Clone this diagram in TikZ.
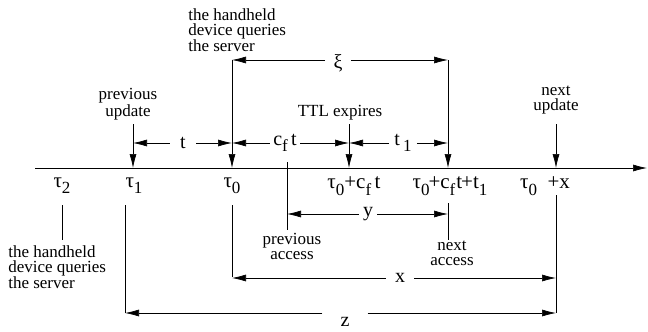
\documentclass[tikz,border=0pt]{standalone}
\usepackage{fontspec}
\setmainfont{Liberation Serif}
\usetikzlibrary{positioning,arrows.meta}
\newcommand{\lo}[1]{\raisebox{-0.3em}{\fontsize{17}{17}\selectfont #1}}

\begin{document}
\begin{tikzpicture}[x=1pt, y=-1pt, line width=0.6pt,
  tip/.style={-{Latex[length=14pt,width=7pt]}},
  note/.style={align=center, font=\fontsize{17}{15}\selectfont, inner sep=0pt},
  query/.style={align=left, font=\fontsize{17}{15}\selectfont, inner sep=0pt, anchor=north west},
  val/.style={font=\fontsize{20}{20}\selectfont, inner ysep=0pt, inner xsep=#1},
  val/.default=5pt,
  inst/.style={font=\fontsize{21}{21}\selectfont, inner sep=0pt},
  ]
  \useasboundingbox (0,0) rectangle (648,332);

  % time axis
  \coordinate (ax0) at (35,168);
  \coordinate (ax1) at (647,168);
  \draw[tip] (ax0) -- (ax1);

  % events on the axis
  \coordinate (pu) at (133,168);
  \coordinate (qs) at (232,168);
  \coordinate (pa) at (287,168);
  \coordinate (te) at (349,168);
  \coordinate (na) at (448,168);
  \coordinate (nu) at (556,168);

  % arrows from above
  \coordinate (pu top) at (133,124);
  \coordinate (te top) at (349,124);
  \coordinate (nu top) at (556,124);
  \coordinate (qs top) at (232,60);
  \coordinate (na top) at (448,60);
  \coordinate (pa top) at (287,162);
  \draw[tip] (pu top) -- (pu);
  \draw[tip] (te top) -- (te);
  \draw[tip] (nu top) -- (nu);
  \draw[tip] (qs top) -- (qs);
  \draw[tip] (na top) -- (na);

  \node[note, above=4pt of pu top, xshift=-5pt] (pul) {previous\\update};
  \node[note, above=4pt of te top, xshift=-9pt] (tel) {TTL expires};
  \node[note, above=10pt of nu top] (nul) {next\\update};
  \node[query] (qsl) at (188,8) {the handheld\\device queries\\the server};

  % spans above the axis
  \node[val=8pt] (xi) at (338,63) {ξ};
  \draw[tip] (xi.west |- qs top) -- (qs top);
  \draw[tip] (xi.east |- na top) -- (na top);
  \node[val=10pt] (tl) at (183,143) {t};
  \draw[tip] (tl) -- (pu |- tl);
  \draw[tip] (tl) -- (qs |- tl);
  \node[val=3pt] (cfl) at (285,143) {c\lo{f}\,t};
  \draw[tip] (cfl) -- (qs |- cfl);
  \draw[tip] (cfl) -- (te |- cfl);
  \node[val=5pt] (t1l) at (403,143) {t\,\lo{1}};
  \draw[tip] (t1l) -- (te |- t1l);
  \draw[tip] (t1l) -- (na |- t1l);

  % instants under the axis
  \node[inst] (tau2) at (62,186) {τ\lo{2}};
  \node[inst] (tau1) at (134,186) {τ\lo{1}};
  \node[inst] (tau0) at (232,186) {τ\lo{0}};
  \node[inst] (tau0c) at (354,186) {τ\lo{0}+c\lo{f}\,t};
  \node[inst] (tau0ct) at (450,186) {τ\lo{0}\kern-1pt+c\lo{f}\kern1pt t\kern-1pt+t\lo{1}};
  \node[inst] (tau0x) at (545,186) {τ\lo{0}\ \ +x};

  % lines below the axis
  \coordinate (tau2 a) at (62,205);   \coordinate (tau2 b) at (62,240);
  \coordinate (tau1 a) at (125,205);  \coordinate (tau1 b) at (125,313);
  \coordinate (tau0 a) at (232,205);  \coordinate (tau0 b) at (232,277);
  \coordinate (pa b) at (287,230);
  \coordinate (na a) at (448,203);    \coordinate (na b) at (448,240);
  \coordinate (nu a) at (556,195);    \coordinate (nu b) at (556,313);
  \draw (tau2 a) -- (tau2 b);
  \draw (tau1 a) -- (tau1 b);
  \draw (tau0 a) -- (tau0 b);
  \draw (pa top) -- (pa b);
  \draw (na a) -- (na b);
  \draw (nu a) -- (nu b);

  \node[note, below=3pt of pa b, xshift=5pt] (pal) {previous\\access};
  \node[note, below=1pt of na b, xshift=4pt] (nal) {next\\access};
  \node[query] (qdl) at (8,245) {the handheld\\device queries\\the server};

  % spans below the axis
  \node[val=4pt] (yl) at (368,214) {y};
  \draw[tip] (yl) -- (pa |- yl);
  \draw[tip] (yl) -- (na |- yl);
  \node[val=9pt] (xl) at (400,278) {x};
  \draw[tip] (xl) -- (qs |- xl);
  \draw[tip] (xl) -- (nu |- xl);
  \node[val=18pt] (zl) at (345,322) {z};
  \draw[tip] (zl.west |- tau1 b) -- (tau1 b);
  \draw[tip] (zl.east |- nu b) -- (nu b);
\end{tikzpicture}
\end{document}
